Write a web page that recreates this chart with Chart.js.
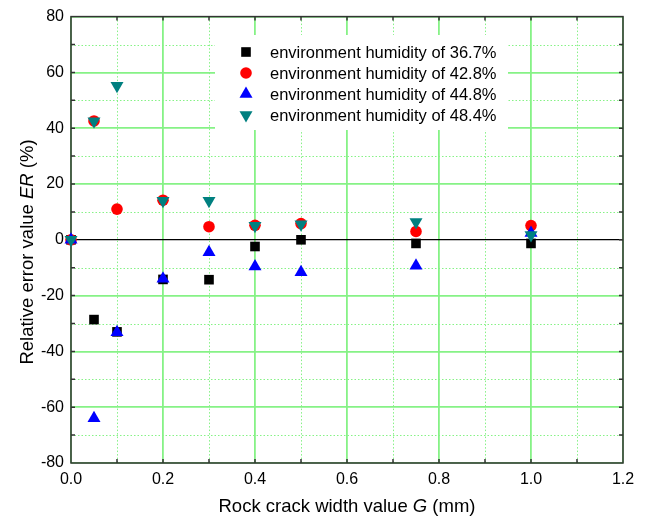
<!DOCTYPE html>
<html>
<head>
<meta charset="utf-8">
<script src="https://cdn.jsdelivr.net/npm/chart.js@4.4.1/dist/chart.umd.min.js"></script>
<style>
  html, body { margin: 0; padding: 0; background: #fff; }
</style>
</head>
<body>
<canvas id="errorChart" width="649" height="518"></canvas>
<script>
const errorChart_el = document.getElementById('errorChart');
const ctxError = errorChart_el.getContext('2d');

// data
const crackWidths = [0, 0.05, 0.1, 0.2, 0.3, 0.4, 0.5, 0.75, 1.0];
const humidity367 = [0, -28.6, -33.0, -14.2, -14.3, -2.4, 0, -1.3, -1.3];
const humidity428 = [0, 42.6, 11.0, 14.2, 4.7, 5.2, 5.8, 3.0, 5.1];
const humidity448 = [0, -64.0, -33.1, -14.0, -4.5, -9.6, -11.6, -9.3, 2.4];
const humidity484 = [0, 42.5, 55.2, 14.0, 14.0, 5.0, 5.6, 6.4, 1.7];
const seriesNames = [
  'environment humidity of 36.7%',
  'environment humidity of 42.8%',
  'environment humidity of 44.8%',
  'environment humidity of 48.4%'
];
const xRange = [0, 1.2];
const yRange = [-80, 80];
const xStep = 0.2;
const yStep = 20;

const fontFamily = '"Liberation Sans", Arial, sans-serif';
const gridGreen = '#86f286';
const frameColor = '#333333';

const markers = [
  { color: '#000000', style: 'rect', radius: 6.8, rotation: 0 },
  { color: '#ff0000', style: 'circle', radius: 5.8, rotation: 0 },
  { color: '#0000ff', style: 'triangle', radius: 7.5, rotation: 0 },
  { color: '#008080', style: 'triangle', radius: 7.5, rotation: 180 }
];

function toPoints(values) {
  return crackWidths.map((x, i) => ({ x, y: values[i] }));
}

const allSeries = [humidity367, humidity428, humidity448, humidity484];

function drawMarker(ctx, m, x, y) {
  Chart.helpers.drawPoint(ctx, {
    pointStyle: m.style,
    radius: m.radius,
    rotation: m.rotation,
    borderWidth: 0
  }, x, y);
}

const framePlugin = {
  id: 'framePlugin',
  beforeDatasetsDraw(chart) {
    const { ctx, chartArea: a, scales: { x, y } } = chart;
    ctx.save();

    // minor dotted grid
    ctx.strokeStyle = gridGreen;
    ctx.lineWidth = 1;
    ctx.setLineDash([1.5, 2]);
    for (let i = 1; i < 12; i += 2) {
      const px = Math.round(x.getPixelForValue(i / 10)) + 0.5;
      ctx.beginPath(); ctx.moveTo(px, a.top); ctx.lineTo(px, a.bottom); ctx.stroke();
    }
    for (let v = -70; v < 80; v += 20) {
      const py = Math.round(y.getPixelForValue(v)) + 0.5;
      ctx.beginPath(); ctx.moveTo(a.left, py); ctx.lineTo(a.right, py); ctx.stroke();
    }
    ctx.setLineDash([]);

    // legend box
    ctx.fillStyle = '#ffffff';
    ctx.fillRect(215, 35, 293, 95);
    ctx.font = '16.5px ' + fontFamily;
    ctx.textBaseline = 'middle';
    ctx.textAlign = 'left';
    seriesNames.forEach((name, i) => {
      const rowY = 52 + i * 21;
      ctx.fillStyle = markers[i].color;
      ctx.strokeStyle = markers[i].color;
      drawMarker(ctx, markers[i], 246, rowY);
      ctx.fillStyle = '#000000';
      ctx.fillText(name, 270, rowY + 1);
    });

    // frame with inward ticks
    ctx.strokeStyle = frameColor;
    ctx.lineWidth = 1.5;
    ctx.strokeRect(a.left, a.top, a.right - a.left, a.bottom - a.top);
    ctx.beginPath();
    for (let i = 1; i < 12; i++) {
      const px = x.getPixelForValue(i / 10);
      ctx.moveTo(px, a.bottom); ctx.lineTo(px, a.bottom - 4);
      ctx.moveTo(px, a.top); ctx.lineTo(px, a.top + 4);
    }
    for (let v = -70; v < 80; v += 10) {
      const py = y.getPixelForValue(v);
      ctx.moveTo(a.left, py); ctx.lineTo(a.left + 4, py);
      ctx.moveTo(a.right, py); ctx.lineTo(a.right - 4, py);
    }
    ctx.stroke();
    ctx.restore();
  },
  afterDraw(chart) {
    const { ctx, chartArea: a } = chart;
    ctx.save();
    ctx.fillStyle = '#000000';
    ctx.textBaseline = 'alphabetic';
    ctx.textAlign = 'left';

    // x title with italic G
    const xParts = [
      ['Rock crack width value ', ''],
      ['G', 'italic '],
      [' (mm)', '']
    ];
    drawMixed(ctx, xParts, (a.left + a.right) / 2, 512);

    // y title, rotated
    ctx.translate(33, 252);
    ctx.rotate(-Math.PI / 2);
    const yParts = [
      ['Relative error value ', ''],
      ['ER', 'italic '],
      [' (%)', '']
    ];
    drawMixed(ctx, yParts, 0, 0);
    ctx.restore();
  }
};

function drawMixed(ctx, parts, cx, baseY) {
  let total = 0;
  parts.forEach(p => {
    ctx.font = p[1] + '18.5px ' + fontFamily;
    total += ctx.measureText(p[0]).width;
  });
  let x = cx - total / 2;
  parts.forEach(p => {
    ctx.font = p[1] + '18.5px ' + fontFamily;
    ctx.fillText(p[0], x, baseY);
    x += ctx.measureText(p[0]).width;
  });
}

function createErrorChart() {
  return new Chart(ctxError, {
    type: 'scatter',
    data: {
      datasets: allSeries.map((values, i) => ({
        label: seriesNames[i],
        data: toPoints(values),
        pointStyle: markers[i].style,
        pointRadius: markers[i].radius,
        pointHoverRadius: markers[i].radius,
        pointRotation: markers[i].rotation,
        backgroundColor: markers[i].color,
        borderColor: markers[i].color,
        pointBorderWidth: 0,
        showLine: false,
        clip: false,
        order: 4 - i
      }))
    },
    options: {
      responsive: false,
      animation: false,
      layout: { padding: { top: 15, right: 26, left: 0, bottom: 0 } },
      plugins: {
        legend: { display: false },
        tooltip: { enabled: false },
        title: { display: false }
      },
      scales: {
        x: {
          type: 'linear',
          min: xRange[0],
          max: xRange[1],
          afterFit(scale) { scale.height = 55; },
          grid: { color: gridGreen, lineWidth: 1.8, drawTicks: false },
          border: { display: false },
          ticks: {
            stepSize: xStep,
            padding: 7,
            color: '#000000',
            font: { family: fontFamily, size: 16 },
            callback: v => Number(v).toFixed(1)
          }
        },
        y: {
          type: 'linear',
          min: yRange[0],
          max: yRange[1],
          afterFit(scale) { scale.width = 71; },
          grid: {
            color: c => (c.tick && c.tick.value === 0) ? '#000000' : gridGreen,
            lineWidth: c => (c.tick && c.tick.value === 0) ? 1.3 : 1.8,
            drawTicks: false
          },
          border: { display: false },
          ticks: {
            stepSize: yStep,
            padding: 7,
            color: '#000000',
            font: { family: fontFamily, size: 16 }
          }
        }
      }
    },
    plugins: [framePlugin]
  });
}

let errorChart = createErrorChart();
</script>
</body>
</html>
